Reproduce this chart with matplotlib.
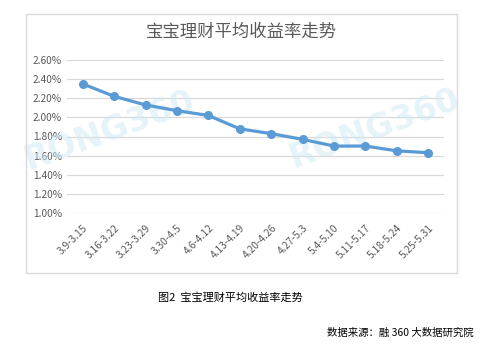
import matplotlib.pyplot as plt
from matplotlib.patches import Rectangle
from matplotlib.ticker import FuncFormatter

plt.rcParams['font.family'] = ['Noto Sans CJK SC', 'DejaVu Sans']

weeks = ['3.9-3.15', '3.16-3.22', '3.23-3.29', '3.30-4.5', '4.6-4.12', '4.13-4.19',
         '4.20-4.26', '4.27-5.3', '5.4-5.10', '5.11-5.17', '5.18-5.24', '5.25-5.31']
avg_yield = [2.35, 2.22, 2.13, 2.07, 2.02, 1.88, 1.83, 1.77, 1.70, 1.70, 1.65, 1.63]
y_ticks = [1.0, 1.2, 1.4, 1.6, 1.8, 2.0, 2.2, 2.4, 2.6]


def main():
    fig = plt.figure(figsize=(4.9, 3.53), dpi=100)
    W, H = 490, 353

    # outer chart frame
    fig.patches.append(Rectangle((26 / W, 1 - 273 / H), 431 / W, 259 / H,
                                 transform=fig.transFigure, fill=False,
                                 edgecolor='#d9d9d9', linewidth=1.0))

    ax = fig.add_axes([67 / W, 1 - 213 / H, 377 / W, 153 / H])
    x = list(range(len(weeks)))
    ax.plot(x, avg_yield, color='#5b9bd5', linewidth=2.3, marker='o',
            markersize=5.5, zorder=3)
    ax.set_xlim(-0.5, len(weeks) - 0.5)
    ax.set_ylim(1.0, 2.6)
    ax.set_yticks(y_ticks)
    ax.yaxis.set_major_formatter(FuncFormatter(lambda v, p: f'{v:.2f}%'))
    ax.set_xticks(x)
    ax.set_xticklabels(weeks, rotation=45, ha='right', rotation_mode='anchor')
    ax.tick_params(axis='both', length=0, labelsize=7.3, colors='#595959')
    ax.tick_params(axis='x', pad=7)
    ax.grid(axis='y', color='#d9d9d9', linewidth=0.9)
    ax.set_axisbelow(True)
    for s in ax.spines.values():
        s.set_visible(False)

    # watermarks, drawn under the line
    for cx, cy in [(110, 130), (375, 128)]:
        ax.text(cx / W, 1 - cy / H, 'RONG360', fontsize=24, fontweight='bold',
                color='#cde9f5', alpha=0.5, rotation=20, ha='center',
                va='center', family='DejaVu Sans', zorder=1,
                transform=fig.transFigure, clip_on=False)

    fig.text(241 / W, 1 - 32 / H, '宝宝理财平均收益率走势', fontsize=12.5,
             color='#595959', ha='center', va='center')
    fig.text(230 / W, 1 - 298 / H, '图2  宝宝理财平均收益率走势', fontsize=8,
             color='black', ha='center', va='center')
    fig.text(474 / W, 1 - 333 / H, '数据来源：融 360 大数据研究院', fontsize=7.5,
             color='black', ha='right', va='center')

    fig.savefig('out.png', dpi=100)
    plt.close(fig)


if __name__ == "__main__":
    main()
